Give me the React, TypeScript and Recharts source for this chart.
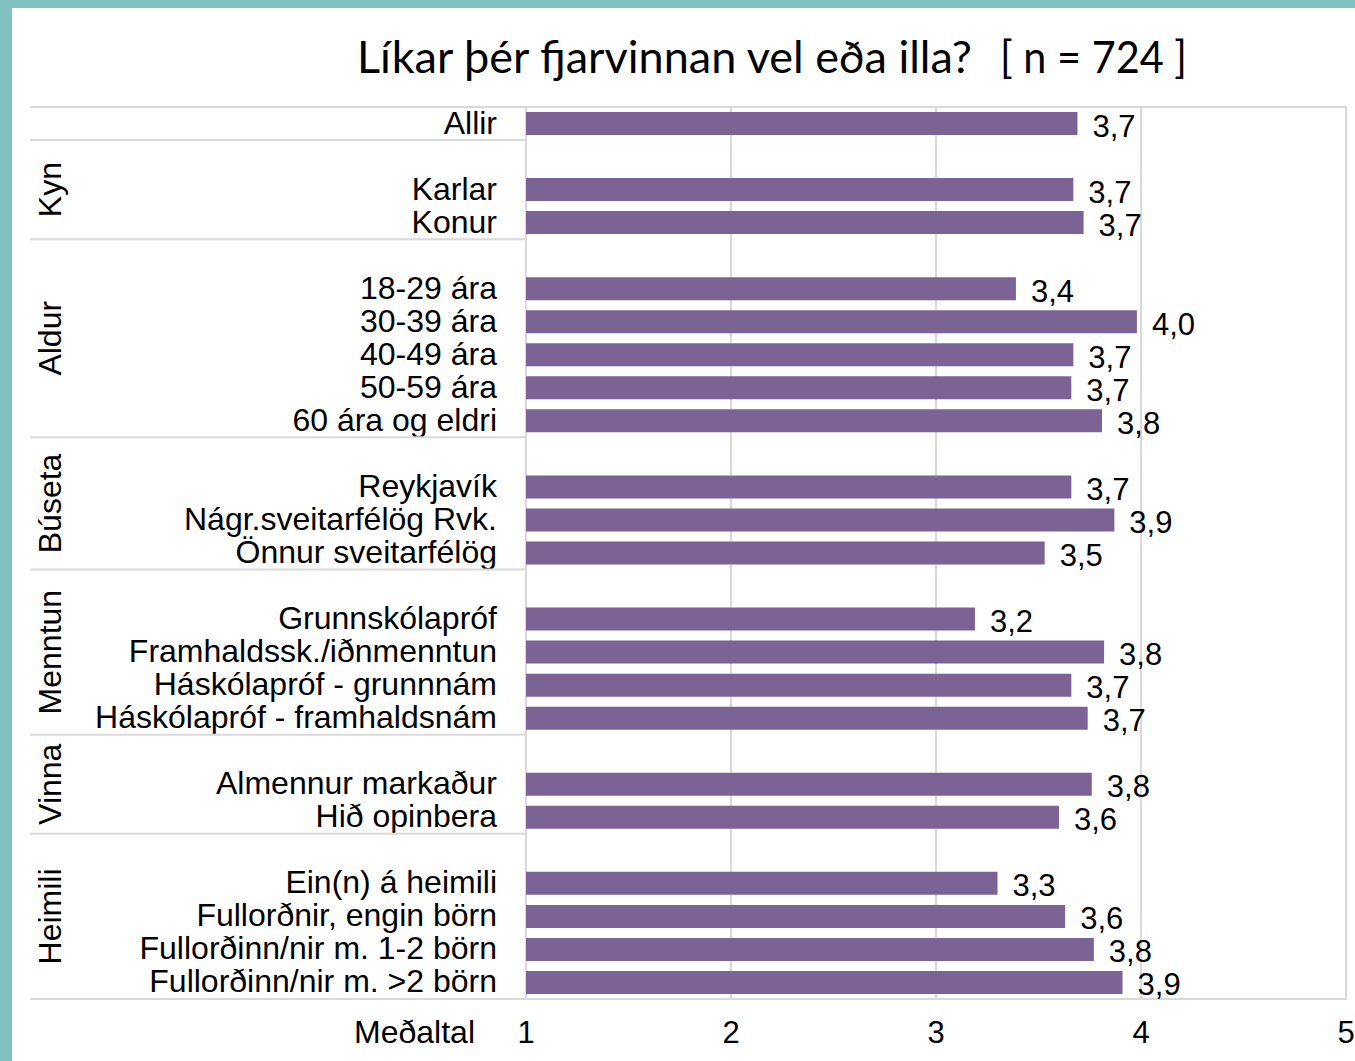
import React from 'react';
import { BarChart, Bar, XAxis, YAxis, CartesianGrid, LabelList, ReferenceArea } from 'recharts';

const categories = [
  'Allir', '',
  'Karlar', 'Konur', '',
  '18-29 ára', '30-39 ára', '40-49 ára', '50-59 ára', '60 ára og eldri', '',
  'Reykjavík', 'Nágr.sveitarfélög Rvk.', 'Önnur sveitarfélög', '',
  'Grunnskólapróf', 'Framhaldssk./iðnmenntun', 'Háskólapróf - grunnnám', 'Háskólapróf - framhaldsnám', '',
  'Almennur markaður', 'Hið opinbera', '',
  'Ein(n) á heimili', 'Fullorðnir, engin börn', 'Fullorðinn/nir m. 1-2 börn', 'Fullorðinn/nir m. >2 börn',
];

const means = [
  3.69, null,
  3.67, 3.72, null,
  3.39, 3.98, 3.67, 3.66, 3.81, null,
  3.66, 3.87, 3.53, null,
  3.19, 3.82, 3.66, 3.74, null,
  3.76, 3.6, null,
  3.3, 3.63, 3.77, 3.91,
];

// group label + first/last row (the blank spacer row belongs to the group below it)
const groups = [
  { label: 'Kyn', from: 1, to: 3 },
  { label: 'Aldur', from: 4, to: 9 },
  { label: 'Búseta', from: 10, to: 13 },
  { label: 'Menntun', from: 14, to: 18 },
  { label: 'Vinna', from: 19, to: 21 },
  { label: 'Heimili', from: 22, to: 26 },
];

const xTicks = [1, 2, 3, 4, 5];
const titleMain = 'Líkar þér fjarvinnan vel eða illa?';
const titleN = '[ n = 724 ]';
const xAxisTitle = 'Meðaltal';

const W = 1343;
const H = 1053;
const M = { top: 99, right: 9, left: 0, bottom: 0 };
const Y_AXIS_W = 514;
const X_AXIS_H = 62;
const PLOT_LEFT = M.left + Y_AXIS_W;
const PLOT_TOP = M.top;
const PLOT_H = H - M.top - M.bottom - X_AXIS_H;
const BAND = PLOT_H / categories.length;

const FONT = '"Liberation Sans", Arial, sans-serif';
const TITLE_FONT = 'Lato, sans-serif';
const BAR = '#7b6495';
const GRID = '#d9d9d9';

const data = categories.map((name, i) => ({ id: `r${i}`, name, mean: means[i] }));

const fmt = (v: number) => v.toFixed(1).replace('.', ',');

const CatTick = ({ y, index }: any) => (
  <text x={PLOT_LEFT - 29} y={y} dy={10} textAnchor="end" fontSize={32} fontFamily={FONT} fill="#000">
    {categories[index]}
  </text>
);

const NumTick = ({ x, payload }: any) => (
  <text x={x} y={H - X_AXIS_H + 44} textAnchor="middle" fontSize={31} fontFamily={FONT} fill="#000">
    {payload.value}
  </text>
);

const ValueLabel = ({ x, y, width, height, value }: any) => {
  if (value == null) return null;
  return (
    <text x={x + width + 15} y={y + height / 2} dy={13} fontSize={31} fontFamily={FONT} fill="#000">
      {fmt(value)}
    </text>
  );
};

export default function App() {
  const bounds = [0, ...groups.map(g => g.from), categories.length];
  return (
    <div style={{ position: 'absolute', left: 0, top: 0, width: 1355, height: 1061, background: '#80c1c1' }}>
      <div style={{ position: 'absolute', left: 12, top: 8, width: W, height: H, background: '#fff' }}>
        <BarChart width={W} height={H} data={data} layout="vertical" margin={M} barSize={23}>
          <CartesianGrid horizontal={false} stroke={GRID} strokeWidth={2} />
          <ReferenceArea x1={1} x2={5} fill="none" stroke={GRID} strokeWidth={2} />
          <XAxis
            type="number"
            domain={[1, 5]}
            ticks={xTicks}
            axisLine={false}
            tickLine={false}
            height={X_AXIS_H}
            tick={<NumTick />}
          />
          <YAxis
            type="category"
            dataKey="id"
            width={Y_AXIS_W}
            axisLine={false}
            tickLine={false}
            interval={0}
            tick={<CatTick />}
          />
          <Bar dataKey="mean" fill={BAR} isAnimationActive={false}>
            <LabelList dataKey="mean" content={<ValueLabel />} />
          </Bar>
        </BarChart>
        <svg width={W} height={H} style={{ position: 'absolute', left: 0, top: 0, pointerEvents: 'none' }}>
          <text x={345} y={65} fontSize={44} fontFamily={TITLE_FONT} fill="#000" textLength={615} lengthAdjust="spacingAndGlyphs">
            {titleMain}
          </text>
          <text x={988} y={65} fontSize={44} fontFamily={TITLE_FONT} fill="#000" textLength={187} lengthAdjust="spacingAndGlyphs">
            {titleN}
          </text>
          {bounds.map((b, i) => (
            <line key={i} x1={18} x2={PLOT_LEFT} y1={PLOT_TOP + b * BAND} y2={PLOT_TOP + b * BAND} stroke={GRID} strokeWidth={2} />
          ))}
          {groups.map(g => {
            const cy = PLOT_TOP + ((g.from + g.to + 1) / 2) * BAND;
            return (
              <text key={g.label} x={38} y={cy} dy={11} textAnchor="middle" fontSize={32} fontFamily={FONT} fill="#000" transform={`rotate(-90 38 ${cy})`}>
                {g.label}
              </text>
            );
          })}
          <text x={463} y={H - X_AXIS_H + 44} textAnchor="end" fontSize={32} fontFamily={FONT} fill="#000">
            {xAxisTitle}
          </text>
        </svg>
      </div>
    </div>
  );
}
